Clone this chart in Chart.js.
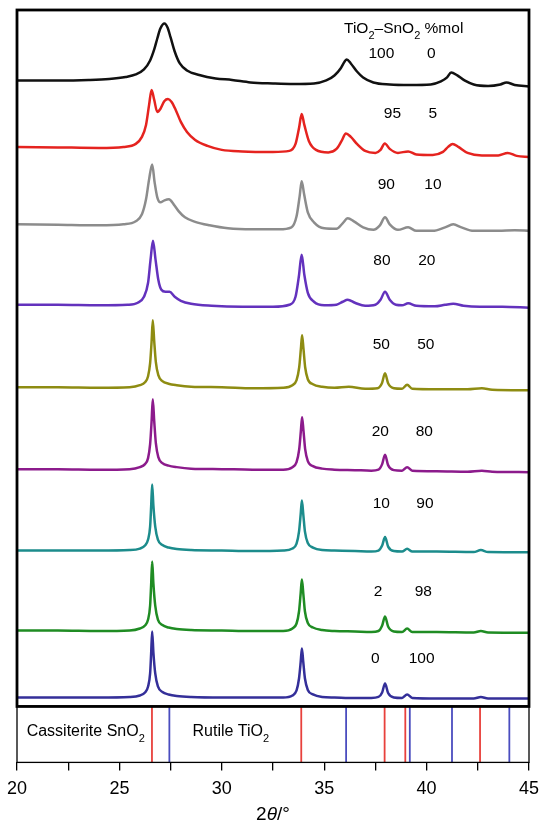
<!DOCTYPE html>
<html>
<head>
<meta charset="utf-8">
<script src="https://cdn.jsdelivr.net/npm/chart.js@4.4.1/dist/chart.umd.min.js"></script>
<style>
  html, body { margin: 0; padding: 0; background: #fff; }
  #wrap { width: 539px; height: 825px; position: relative; }
</style>
</head>
<body>
<div id="wrap"><canvas id="xrd"></canvas></div>
<script>
const FONT = "'Liberation Sans', Arial, Helvetica, sans-serif";

// Samples, top to bottom (TiO2 / SnO2 %mol)
const tio2Pct = [100, 95, 90, 80, 50, 20, 10, 2, 0];
const sno2Pct = [0, 5, 10, 20, 50, 80, 90, 98, 100];
const traceColors = ['#111111', '#e5231f', '#8c8c8c', '#6332bd', '#8e8c12', '#8c1b8c', '#1c8c8c', '#1f8c23', '#342f99'];
// vertical shift of each pattern (a.u.)
const traceOffsets = [626.5, 560, 482.5, 402, 319.5, 237.5, 156, 76, 9];

// Patterns: [2theta, intensity a.u.]
const xrd_100_0 = [
	[20, 0], [22, 0], [23.5, 0.5], [24.5, 1.5], [25.3, 3.5], [25.8, 6], [26.2, 11], [26.5, 20], [26.7, 31],
	[26.85, 42], [27.0, 52], [27.2, 57], [27.35, 53], [27.5, 43], [27.7, 29], [27.95, 17], [28.3, 10],
	[28.9, 5.5], [29.7, 2], [30.5, 0.5], [31.4, -2], [32.5, -3], [33.5, -3.5], [34.5, -3], [35.1, 0],
	[35.5, 5], [35.8, 12], [36.0, 19], [36.1, 21], [36.3, 17], [36.6, 9], [36.9, 3], [37.4, -2], [38.2, -4],
	[39.2, -4.5], [40.2, -4], [40.7, -1], [41.0, 3], [41.2, 8], [41.5, 5], [41.85, 0], [42.3, -4], [43.0, -5.5],
	[43.6, -4], [43.9, -2], [44.3, -4.5], [45, -6],
];
const xrd_95_5 = [
	[20, 0], [22, -0.5], [24, -1], [25.2, 0], [25.8, 3], [26.1, 10], [26.3, 22], [26.45, 42], [26.57, 57],
	[26.7, 47], [26.85, 35], [27.0, 38], [27.2, 46], [27.37, 48], [27.55, 45], [27.75, 37], [28.0, 25],
	[28.3, 15], [28.7, 7], [29.3, 1], [30, -3], [31, -4.5], [32.5, -5], [33.3, -4], [33.6, 3], [33.78, 20],
	[33.9, 33], [34.03, 22], [34.25, 6], [34.6, -3], [35.2, -5.5], [35.6, -2], [35.85, 6], [36.06, 13.5],
	[36.3, 10], [36.6, 3], [37.0, -4], [37.5, -6], [37.75, -3], [37.96, 3.5], [38.2, -2], [38.6, -6],
	[39.1, -4.5], [39.5, -7.5], [40.3, -8], [40.8, -5], [41.05, 0], [41.27, 3], [41.55, 0], [42.0, -6],
	[42.7, -8.5], [43.5, -8.5], [43.96, -6], [44.4, -9], [45, -10],
];
const xrd_90_10 = [
	[20, 0], [22, -0.5], [24, -1], [25.2, 0], [25.8, 3], [26.1, 10], [26.3, 25], [26.45, 45], [26.6, 60],
	[26.72, 42], [26.85, 27], [27.0, 22], [27.2, 24], [27.42, 25], [27.65, 20], [27.9, 13], [28.2, 7],
	[28.7, 2.5], [29.4, -1], [30.3, -4], [31.5, -5], [32.8, -5], [33.4, -3], [33.65, 8], [33.8, 28],
	[33.9, 43], [34.02, 30], [34.2, 12], [34.5, 2], [35.0, -4], [35.6, -4.5], [35.9, 1], [36.15, 6],
	[36.45, 3], [36.9, -3], [37.4, -5.5], [37.72, -1], [37.97, 7], [38.2, 0], [38.6, -5.5], [39.1, -3],
	[39.5, -6.5], [40.3, -6.5], [40.9, -3], [41.3, 0], [41.7, -3], [42.3, -6.5], [43.5, -6.5], [44.3, -6],
	[45, -6.5],
];
const xrd_80_20 = [
	[20, 0], [22, 0], [24, -0.5], [25.4, 0], [25.9, 2], [26.2, 8], [26.4, 22], [26.52, 45], [26.64, 64],
	[26.76, 46], [26.9, 25], [27.05, 15], [27.25, 13], [27.45, 13], [27.7, 8], [28.0, 4], [28.5, 1],
	[29.5, -1], [31, -2], [32.5, -2], [33.3, 0], [33.6, 8], [33.76, 28], [33.9, 50], [34.03, 30],
	[34.2, 12], [34.5, 3], [35.0, -0.5], [35.6, 0], [35.9, 3], [36.15, 5], [36.5, 2], [37.0, -1],
	[37.5, 0], [37.75, 5], [37.97, 13], [38.2, 5], [38.5, 0], [38.8, -0.5], [39.1, 1.5], [39.5, -1],
	[40.4, -1.5], [40.9, 0], [41.3, 1], [41.8, -1], [42.6, -2], [43.7, -2], [45, -3],
];
const xrd_50_50 = [
	[20, 0], [22, 0], [24, -0.5], [25.5, 0], [26.0, 2], [26.25, 5], [26.4, 11], [26.5, 24], [26.57, 45],
	[26.63, 67], [26.7, 46], [26.78, 25], [26.9, 12], [27.1, 6], [27.4, 3.5], [27.8, 2], [28.5, 0.5],
	[30, 0], [31.5, -1], [33.0, -0.5], [33.45, 2], [33.65, 7], [33.78, 20], [33.86, 38], [33.92, 52],
	[33.99, 38], [34.07, 20], [34.2, 8], [34.45, 3], [34.9, 0.5], [35.5, -0.5], [36.2, 0.5], [37.0, -1.5],
	[37.6, -1], [37.82, 4], [37.97, 14], [38.12, 4], [38.4, -1], [38.8, -1.5], [39.05, 2.5], [39.3, -1.5],
	[40.5, -2], [42.0, -2], [42.7, -1], [43.2, -2.5], [45, -3],
];
const xrd_20_80 = [
	[20, 0], [22, 0], [24, -0.5], [25.5, 0], [26.0, 2], [26.25, 5], [26.4, 11], [26.5, 25], [26.57, 47],
	[26.63, 70], [26.7, 48], [26.78, 26], [26.9, 12], [27.1, 6], [27.4, 3.5], [27.8, 2], [28.5, 0.5],
	[30, 0], [31.5, -0.5], [33.0, -0.5], [33.45, 2], [33.65, 7], [33.78, 20], [33.86, 38], [33.92, 52],
	[33.99, 38], [34.07, 20], [34.2, 8], [34.45, 3], [34.9, 0.5], [35.5, -0.5], [36.5, -1], [37.3, -1.5],
	[37.65, -0.5], [37.83, 5], [37.97, 14.5], [38.12, 4], [38.4, -1], [38.8, -1.5], [39.05, 2], [39.3, -1.5],
	[40.5, -2], [42.0, -2.5], [42.7, -1.5], [43.2, -2.5], [45, -3],
];
const xrd_10_90 = [
	[20, 0], [22, 0], [24, 0], [25.5, 0.5], [26.0, 2], [26.25, 5], [26.4, 11], [26.5, 24], [26.55, 44],
	[26.6, 66], [26.66, 45], [26.75, 24], [26.88, 11], [27.1, 5.5], [27.4, 3], [27.8, 1.5], [28.5, 0.5],
	[30, 0], [31.5, -0.5], [33.0, 0], [33.45, 2], [33.65, 7], [33.77, 19], [33.85, 36], [33.91, 50],
	[33.98, 36], [34.06, 19], [34.2, 7.5], [34.45, 3], [34.9, 0.5], [35.5, 0], [36.5, -0.5], [37.3, -1],
	[37.65, 0], [37.83, 5], [37.97, 13.5], [38.12, 4], [38.4, -0.5], [38.8, -1], [39.05, 1.7], [39.3, -1],
	[40.5, -1], [42.3, -1.5], [42.65, 0.5], [43.0, -1.5], [45, -1.7],
];
const xrd_2_98 = [
	[20, 0], [22, 0], [24, -0.5], [25.5, 0], [26.0, 2], [26.25, 5], [26.4, 11], [26.5, 25], [26.55, 46],
	[26.6, 69], [26.66, 47], [26.75, 25], [26.88, 11], [27.1, 5.5], [27.4, 3], [27.8, 1.5], [28.5, 0.5],
	[30, 0], [31.5, -0.5], [33.0, -0.5], [33.45, 2], [33.65, 7], [33.77, 19], [33.85, 37], [33.91, 51],
	[33.98, 37], [34.06, 19], [34.2, 7.5], [34.45, 3], [34.9, 0.5], [35.5, -0.5], [36.5, -1], [37.3, -1.5],
	[37.65, -0.5], [37.83, 5], [37.97, 14], [38.12, 4], [38.4, -1], [38.8, -1.5], [39.05, 2], [39.3, -1.5],
	[40.5, -1.5], [42.3, -2], [42.65, -0.5], [43.0, -2], [45, -2.3],
];
const xrd_0_100 = [
	[20, 0], [22, 0], [24, 0], [25.5, 0.5], [26.0, 2], [26.25, 5], [26.4, 11], [26.5, 24], [26.55, 44],
	[26.6, 66], [26.66, 45], [26.75, 24], [26.88, 11], [27.1, 5.5], [27.4, 3], [27.8, 1.5], [28.5, 0.5],
	[30, 0], [31.5, 0], [33.0, 0], [33.45, 2], [33.65, 7], [33.77, 19], [33.85, 35], [33.91, 49],
	[33.98, 35], [34.06, 19], [34.2, 7.5], [34.45, 3], [34.9, 0.5], [35.5, 0], [36.5, -0.5], [37.3, -0.5],
	[37.65, 0.5], [37.83, 5], [37.97, 14], [38.12, 4.5], [38.4, 0], [38.8, -0.5], [39.05, 3], [39.3, -0.5],
	[40.5, -1], [42.3, -1], [42.65, 0.5], [43.0, -1], [45, -1],
];
const traces = [xrd_100_0, xrd_95_5, xrd_90_10, xrd_80_20, xrd_50_50, xrd_20_80, xrd_10_90, xrd_2_98, xrd_0_100];

// Reference patterns (2theta)
const cassiteriteSnO2 = [26.59, 33.88, 37.95, 38.96, 42.61];
const rutileTiO2 = [27.44, 36.07, 39.18, 41.24, 44.04];

const xTickLabels = [20, 25, 30, 35, 40, 45];

// label placement (2theta for the two columns, height above each pattern)
const labelX1 = [37.79, 38.33, 38.03, 37.82, 37.79, 37.74, 37.79, 37.63, 37.49];
const labelX2 = [40.23, 40.30, 40.31, 40.01, 39.96, 39.89, 39.92, 39.84, 39.76];
const labelRise = [26.5, 33, 39.5, 44.3, 42.5, 37.8, 46.7, 38.7, 39];

function refLines(list) {
	const pts = [];
	list.forEach(v => pts.push({ x: v, y: 0 }, { x: v, y: 1 }, { x: v, y: null }));
	return pts;
}

// text with subscripts / italics, drawn left to right from x
function drawParts(ctx, parts, x, y, size, align) {
	const fontFor = p => `${p.italic ? 'italic ' : ''}${p.sub ? Math.round(size * 0.68) : size}px ${FONT}`;
	let total = 0;
	parts.forEach(p => { ctx.font = fontFor(p); total += ctx.measureText(p.t).width; });
	let cx = align === 'center' ? x - total / 2 : x;
	ctx.textAlign = 'left';
	ctx.textBaseline = 'alphabetic';
	parts.forEach(p => {
		ctx.font = fontFor(p);
		ctx.fillText(p.t, cx, p.sub ? y + size * 0.36 : y);
		cx += ctx.measureText(p.t).width;
	});
}

const decorPlugin = {
	id: 'decor',
	afterDraw(chart) {
		const { ctx, chartArea } = chart;
		const xs = chart.scales.x, ys = chart.scales.y, rs = chart.scales.ref;
		const w = chartArea.right - chartArea.left;
		ctx.save();
		ctx.strokeStyle = '#000';
		ctx.lineWidth = 1.3;
		ctx.strokeRect(chartArea.left, rs.top, w, rs.bottom - rs.top);
		ctx.lineWidth = 2.8;
		ctx.strokeRect(chartArea.left, ys.top, w, ys.bottom - ys.top);

		ctx.fillStyle = '#000';
		// composition labels
		ctx.font = `15.5px ${FONT}`;
		ctx.textAlign = 'center';
		ctx.textBaseline = 'middle';
		tio2Pct.forEach((v, i) => {
			const py = ys.getPixelForValue(traceOffsets[i] + labelRise[i]);
			ctx.fillText(String(v), xs.getPixelForValue(labelX1[i]), py);
			ctx.fillText(String(sno2Pct[i]), xs.getPixelForValue(labelX2[i]), py);
		});
		drawParts(ctx, [{ t: 'TiO' }, { t: '2', sub: true }, { t: '\u2013SnO' }, { t: '2', sub: true }, { t: ' %mol' }],
			xs.getPixelForValue(38.88), ys.getPixelForValue(674), 15.5, 'center');

		// reference panel labels
		drawParts(ctx, [{ t: 'Cassiterite SnO' }, { t: '2', sub: true }],
			xs.getPixelForValue(20.47), rs.getPixelForValue(0.47), 16, 'left');
		drawParts(ctx, [{ t: 'Rutile TiO' }, { t: '2', sub: true }],
			xs.getPixelForValue(28.57), rs.getPixelForValue(0.47), 16, 'left');

		// axis title
		drawParts(ctx, [{ t: '2' }, { t: '\u03b8', italic: true }, { t: '/\u00b0' }],
			(xs.left + xs.right) / 2, xs.bottom + 12, 19, 'center');
		ctx.restore();
	},
};

const datasets = traces.map((tr, i) => ({
	label: `${tio2Pct[i]}-${sno2Pct[i]}`,
	data: tr.map(p => ({ x: p[0], y: p[1] + traceOffsets[i] })),
	borderColor: traceColors[i],
	borderWidth: 2.5,
	pointRadius: 0,
	cubicInterpolationMode: 'monotone',
	yAxisID: 'y',
}));
datasets.push(
	{ label: 'Cassiterite SnO2', data: refLines(cassiteriteSnO2), borderColor: '#e8413c', borderWidth: 1.8, pointRadius: 0, spanGaps: false, yAxisID: 'ref' },
	{ label: 'Rutile TiO2', data: refLines(rutileTiO2), borderColor: '#4a4dbf', borderWidth: 1.8, pointRadius: 0, spanGaps: false, yAxisID: 'ref' },
);

new Chart(document.getElementById('xrd'), {
	type: 'line',
	data: { datasets },
	options: {
		responsive: true,
		maintainAspectRatio: false,
		devicePixelRatio: 1,
		animation: false,
		layout: { padding: { left: 17, right: 10, top: 10, bottom: 17 } },
		plugins: { legend: { display: false }, tooltip: { enabled: false } },
		scales: {
			x: {
				type: 'linear',
				min: 20,
				max: 45,
				border: { display: false },
				grid: { drawOnChartArea: false, drawTicks: true, tickLength: 8, color: '#000', lineWidth: 1.3 },
				ticks: {
					stepSize: 2.5,
					autoSkip: false,
					maxRotation: 0,
					padding: 8,
					color: '#000',
					font: { family: FONT, size: 18 },
					callback: v => (xTickLabels.includes(v) ? String(v) : ''),
				},
				afterFit(scale) { scale.paddingLeft = 0; scale.paddingRight = 0; },
			},
			// upper panel (patterns) stacked above the reference panel
			y: { type: 'linear', min: 0, max: 697, display: false, position: 'right', stack: 'panels', stackWeight: 697 },
			ref: { type: 'linear', min: 0, max: 1, display: false, position: 'right', stack: 'panels', stackWeight: 56 },
		},
	},
	plugins: [decorPlugin],
});
</script>
</body>
</html>
